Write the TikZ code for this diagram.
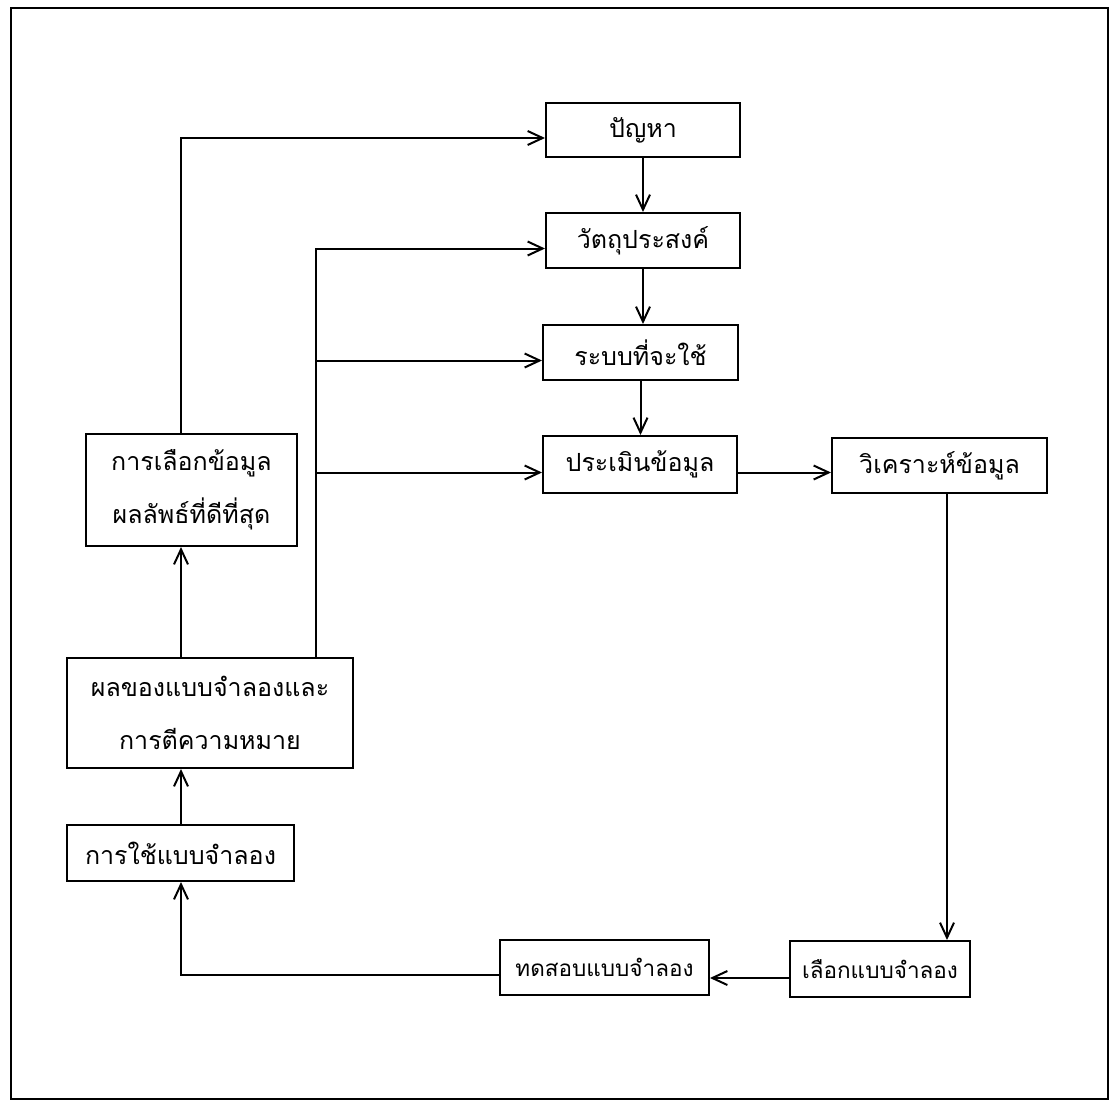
\documentclass[tikz,border=0pt]{standalone}
\usepackage{fontspec}
\newfontfamily\thaifont[Script=Thai]{Loma}
\usetikzlibrary{arrows.meta}

\begin{document}
\begin{tikzpicture}[
    x=1pt, y=-1pt,
    font=\thaifont\fontsize{25}{53}\selectfont,
    >={Straight Barb[length=15pt, width=14pt]},
    line width=2pt,
    % Styles
    stepbox/.style={rectangle, draw, align=center, inner sep=0pt},
    narrowtext/.style={font=\thaifont\fontsize{22.5}{53}\selectfont},
]
\useasboundingbox (0,0) rectangle (1114,1103);

% --- Frame ---
\draw (11,8) rectangle (1108,1099);

% --- Main column ---
\node[stepbox, minimum width=194, minimum height=54] (problem) at (643,130) {ปัญหา};
\node[stepbox, minimum width=194, minimum height=55] (objective) at (643,240.5) {วัตถุประสงค์};
\node[stepbox, minimum width=195, minimum height=55] (system) at (640.5,352.5) {ระบบที่จะใช้};
\node[stepbox, minimum width=194, minimum height=57] (evaluate) at (640,464.5) {ประเมินข้อมูล};
\node[stepbox, minimum width=215, minimum height=55] (analyse) at (939.5,465.5) {วิเคราะห์ข้อมูล};

% --- Bottom row ---
\node[stepbox, narrowtext, minimum width=180, minimum height=56] (choose) at (880,969) {เลือกแบบจำลอง};
\node[stepbox, narrowtext, minimum width=209, minimum height=55] (test) at (604.5,967.5) {ทดสอบแบบจำลอง};

% --- Left column ---
\node[stepbox, minimum width=227, minimum height=56] (apply) at (180.5,853) {การใช้แบบจำลอง};
\node[stepbox, minimum width=286, minimum height=110] (result) at (210,713) {ผลของแบบจำลองและ\\การตีความหมาย};
\node[stepbox, minimum width=211, minimum height=112] (best) at (191.5,490) {การเลือกข้อมูล\\ผลลัพธ์ที่ดีที่สุด};

% --- Connections ---
\draw[->] (problem.south) -- (problem.south |- objective.north);
\draw[->] (objective.south) -- (objective.south |- system.north);
\draw[->] (system.south) -- (system.south |- evaluate.north);
\draw[->] ([yshift=-8pt]evaluate.east) -- ([yshift=-8pt]evaluate.east -| analyse.west);

\coordinate (drop) at (947,0);
\draw[->] (analyse.south -| drop) -- (choose.north -| drop);
\draw[->] ([yshift=-9pt]choose.west) -- ([yshift=-9pt]choose.west -| test.east);

\coordinate (lhs) at (181,0);
\draw[->] ([yshift=-7pt]test.west) -| (lhs |- apply.south);
\draw[->] (lhs |- apply.north) -- (lhs |- result.south);
\draw[->] (lhs |- result.north) -- (lhs |- best.south);
\draw[->] (lhs |- best.north) |- ([yshift=-8pt]problem.west);

\coordinate (bus) at (316,0);
\draw[->] (bus |- result.north) |- ([yshift=-8pt]objective.west);
\draw[->] ([yshift=-8pt]system.west -| bus) -- ([yshift=-8pt]system.west);
\draw[->] ([yshift=-8pt]evaluate.west -| bus) -- ([yshift=-8pt]evaluate.west);

\end{tikzpicture}
\end{document}
